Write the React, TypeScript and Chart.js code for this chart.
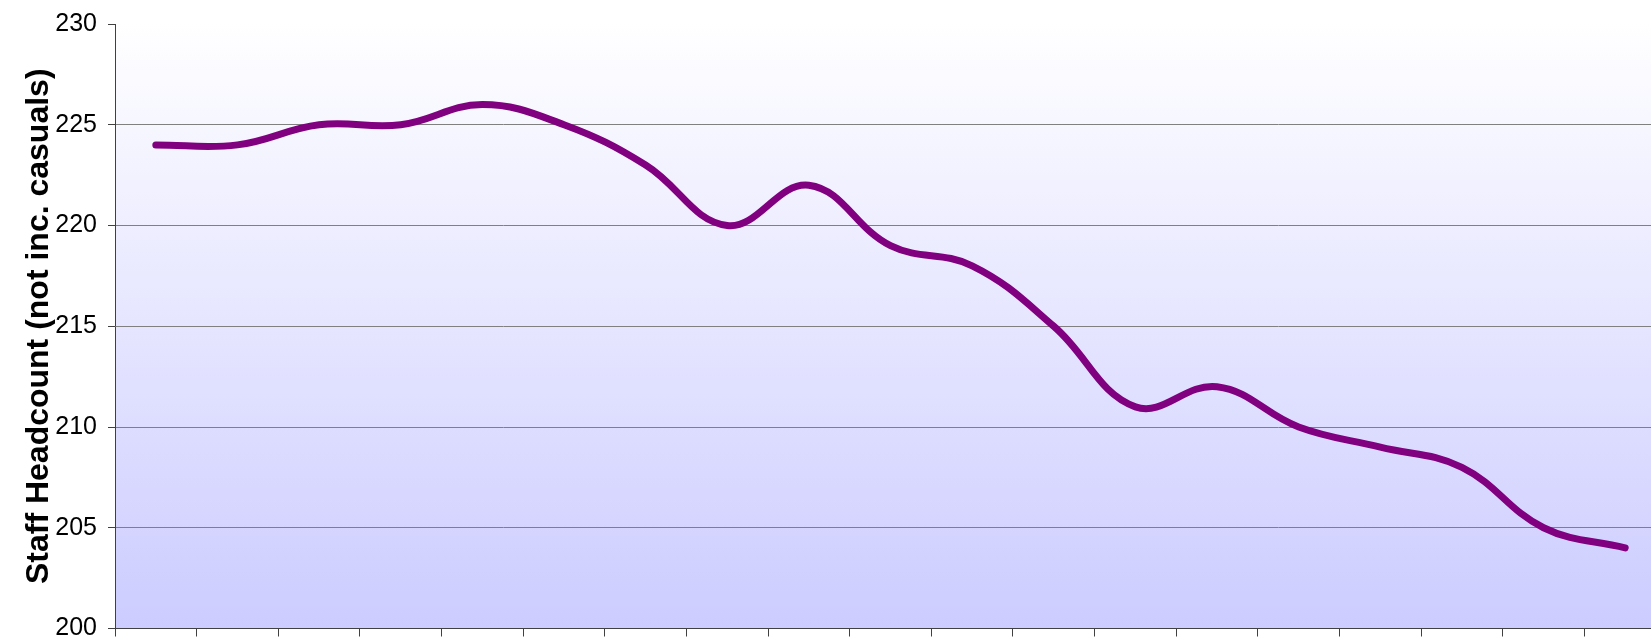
import React, { useEffect, useRef } from "react";
import { Chart, registerables } from "chart.js";

Chart.register(...registerables);

const periods: string[] = [
  "P1", "P2", "P3", "P4", "P5", "P6", "P7", "P8", "P9", "P10",
  "P11", "P12", "P13", "P14", "P15", "P16", "P17", "P18", "P19",
];

const headcount: number[] = [
  224, 224, 225, 225, 226, 225, 223, 220, 222, 219,
  218, 215, 211, 212, 210, 209, 208, 205, 204,
];

const yMin = 200;
const yMax = 230;
const yStep = 5;
const yTitle = "Staff Headcount (not inc. casuals)";

const plotBackground = {
  id: "plotBackground",
  beforeDraw(chart: any) {
    const { ctx, chartArea } = chart;
    if (!chartArea) return;
    const g = ctx.createLinearGradient(0, chartArea.top, 0, chartArea.bottom);
    g.addColorStop(0, "#FFFFFF");
    g.addColorStop(1, "#CCCCFF");
    ctx.save();
    ctx.fillStyle = g;
    ctx.fillRect(chartArea.left, chartArea.top, chartArea.right - chartArea.left, chartArea.bottom - chartArea.top);
    ctx.restore();
  },
};

export default function App() {
  const ref = useRef<HTMLCanvasElement | null>(null);

  useEffect(() => {
    if (!ref.current) return;
    const chart = new Chart(ref.current, {
      type: "line",
      data: {
        labels: periods,
        datasets: [
          {
            data: headcount,
            borderColor: "#800080",
            borderWidth: 7,
            pointRadius: 0,
            pointHoverRadius: 0,
            tension: 0.4,
            borderCapStyle: "round",
            borderJoinStyle: "round",
            fill: false,
            clip: false as any,
          },
        ],
      },
      options: {
        responsive: false,
        animation: false,
        events: [],
        layout: { padding: { top: 24, left: 16, right: 0, bottom: 0 } },
        plugins: {
          legend: { display: false },
          tooltip: { enabled: false },
          title: { display: false },
        },
        scales: {
          x: {
            type: "category",
            offset: true,
            grid: {
              offset: true,
              drawOnChartArea: false,
              drawTicks: true,
              tickLength: 8,
              tickColor: "#404040",
            },
            border: { display: true, color: "#404040", width: 1 },
            ticks: { display: false, padding: 3 },
            afterFit(scale: any) {
              scale.height = 11;
            },
          },
          y: {
            min: yMin,
            max: yMax,
            ticks: {
              stepSize: yStep,
              color: "#000000",
              padding: 11,
              font: { family: "'Liberation Sans', Arial, sans-serif", size: 25, lineHeight: 0.04 },
            },
            grid: {
              drawTicks: true,
              tickLength: 7,
              tickColor: "#404040",
              color: (ctx: any) => {
                const v = ctx.tick ? ctx.tick.value : null;
                if (v === yMax || v === yMin) return "rgba(0,0,0,0)";
                return "#808080";
              },
              lineWidth: 1,
            },
            border: { display: true, color: "#404040", width: 1 },
            title: {
              display: true,
              text: yTitle,
              color: "#000000",
              font: { family: "'Liberation Sans', Arial, sans-serif", size: 32, weight: "bold" },
              padding: { top: 4, bottom: 4 },
            },
            afterFit(scale: any) {
              scale.width = 99;
            },
          },
        },
      },
      plugins: [plotBackground],
    });
    return () => chart.destroy();
  }, []);

  return (
    <div
      style={{
        position: "absolute",
        left: 0,
        top: 0,
        width: 1651,
        height: 640,
        overflow: "hidden",
        background: "#FFFFFF",
      }}
    >
      <canvas ref={ref} width={1666} height={640} style={{ display: "block", width: 1666, height: 640 }} />
    </div>
  );
}
